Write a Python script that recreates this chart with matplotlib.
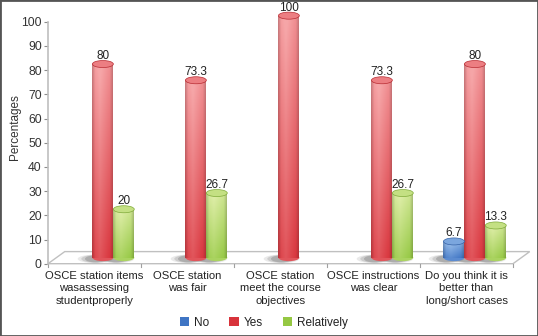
import numpy as np
import matplotlib
matplotlib.use("Agg")
import matplotlib.pyplot as plt
from matplotlib.patches import Ellipse, Polygon, Rectangle
from matplotlib.colors import to_rgb

plt.rcParams['font.family'] = ['Liberation Sans', 'DejaVu Sans']

categories = ["OSCE station items\nwasassessing\nstudentproperly",
              "OSCE station\nwas fair",
              "OSCE station\nmeet the course\nobjectives",
              "OSCE instructions\nwas clear",
              "Do you think it is\nbetter than\nlong/short cases"]
series_names = ["No", "Yes", "Relatively"]
no_vals = [0, 0, 0, 0, 6.7]
yes_vals = [80, 73.3, 100, 73.3, 80]
rel_vals = [20, 26.7, 0, 26.7, 13.3]
value_labels_no = ["", "", "", "", "6.7"]
value_labels_yes = ["80", "73.3", "100", "73.3", "80"]
value_labels_rel = ["20", "26.7", "", "26.7", "13.3"]
yticks = list(range(0, 101, 10))

# colors: (top/light, bottom/dark)
cols = {"No": ("#9CC0EC", "#3F75C4"),
        "Yes": ("#F6A6A8", "#D8333B"),
        "Relatively": ("#DDEDA6", "#95C843")}

W, H = 538, 336
fig = plt.figure(figsize=(W / 100, H / 100), dpi=100)
ax = fig.add_axes([48 / W, (H - 263.7) / H, (513 - 48) / W, (263.7 - 21.7) / H])
ax.set_xlim(-0.5, 4.5)
ax.set_ylim(0, 100)
for s in ["top", "right", "bottom"]:
    ax.spines[s].set_visible(False)
ax.spines["left"].set_color("#BFBFBF")
ax.spines["left"].set_linewidth(1.2)
ax.set_yticks(yticks)
ax.tick_params(axis="y", length=3, width=0.8, color="#8C8C8C", labelsize=8.7,
               labelcolor="#333333", pad=1.5)
ax.set_xticks([])
ax.set_ylabel("Percentages", fontsize=8.5, color="#333333")
ax.yaxis.set_label_coords(-0.059, 0.565)

# floor (3D perspective)
depth_x, depth_y = 0.18, 5.0
floor = Polygon([(-0.5, 0), (4.5, 0), (4.5 + depth_x, depth_y), (-0.5 + depth_x, depth_y)],
                closed=True, facecolor="white", edgecolor="#C0C0C0", lw=1.0,
                clip_on=False, zorder=1)
ax.add_patch(floor)
# category tick marks under floor front edge
for b in np.arange(-0.5, 4.6, 1.0):
    ax.plot([b, b], [0, -1.3], color="#A0A0A0", lw=0.8, clip_on=False, zorder=1)

bw = 0.225
base = depth_y / 2
shift = depth_x / 2
offsets = {"No": -bw, "Yes": 0.0, "Relatively": bw}
ell_h = 2.9

x = np.arange(len(categories))


def grad_img(c_light, c_dark, n=64):
    l = np.array(to_rgb(c_light))
    d = np.array(to_rgb(c_dark))
    yy = np.linspace(0, 1, n)[:, None]  # 0 bottom -> 1 top
    xx = np.linspace(-1, 1, n)[None, :]
    t = 0.15 + 0.75 * yy  # lighter at top
    hl = np.clip(1 - np.abs(xx + 0.25) * 1.1, 0, 1)  # highlight left of center
    t = np.clip(t + 0.25 * hl - 0.1, 0, 1)
    img = d[None, None, :] * (1 - t[..., None]) + l[None, None, :] * t[..., None]
    edge = np.clip(np.abs(xx) - 0.7, 0, 1) / 0.3
    img = img * (1 - 0.18 * edge[..., None])
    return np.clip(img, 0, 1)


def draw_series(name, vals, labels):
    light, dark = cols[name]
    xs = x + offsets[name] + shift
    for xi, v, lab in zip(xs, vals, labels):
        if v <= 0:
            continue
        top = base + v
        # shadow (soft, to the lower left)
        for k, (sw, sa) in enumerate([(1.7, 0.12), (1.35, 0.18), (1.0, 0.25)]):
            sh = Ellipse((xi - 0.08, base - 0.5), bw * sw, ell_h * (0.7 + 0.3 * sw),
                         facecolor="#505050", alpha=sa, edgecolor="none", zorder=2,
                         clip_on=False)
            ax.add_patch(sh)
        rect = ax.bar(xi, v, width=bw, bottom=base, color=dark, zorder=3,
                      clip_on=False, linewidth=0)[0]
        img = grad_img(light, dark)
        im = ax.imshow(img, extent=(xi - bw / 2, xi + bw / 2, base, top), aspect="auto",
                       origin="lower", zorder=3.5, clip_on=True)
        im.set_clip_path(rect)
        bot = Ellipse((xi, base), bw, ell_h, facecolor=img[0, 24], edgecolor="none",
                      zorder=3.2, clip_on=False)
        ax.add_patch(bot)
        topc = 0.65 * np.array(to_rgb(light)) + 0.35 * np.array(to_rgb(dark))
        te = Ellipse((xi, top), bw, ell_h, facecolor=topc,
                     edgecolor=np.array(to_rgb(dark)) * 0.85, lw=0.5, zorder=4, clip_on=False)
        ax.add_patch(te)
        ax.text(xi, top + 3.3, lab, ha="center", va="center", fontsize=8.5,
                color="#222222", zorder=5, clip_on=False)


draw_series("No", no_vals, value_labels_no)
draw_series("Yes", yes_vals, value_labels_yes)
draw_series("Relatively", rel_vals, value_labels_rel)
ax.set_xlim(-0.5, 4.5)
ax.set_ylim(0, 100)

# category labels
for xi, c in zip(x, categories):
    ax.text(xi, -3.0, c, ha="center", va="top", fontsize=8.1, color="#222222",
            linespacing=1.3, clip_on=False)

# legend
handles = [Rectangle((0, 0), 1, 1, facecolor=cols[n][1], edgecolor="none") for n in series_names]
fig.legend(handles, series_names, loc="center", bbox_to_anchor=(0.49, (H - 323) / H),
           ncol=3, frameon=False, fontsize=8.5, handlelength=0.8, handleheight=0.8,
           handletextpad=0.4, columnspacing=1.7, labelcolor="#222222")

# outer border
fig.patches.append(Rectangle((0, 0), 1, 1, transform=fig.transFigure, fill=False,
                             edgecolor="#555555", lw=2.0, zorder=10))

fig.savefig("out.png", dpi=100)
